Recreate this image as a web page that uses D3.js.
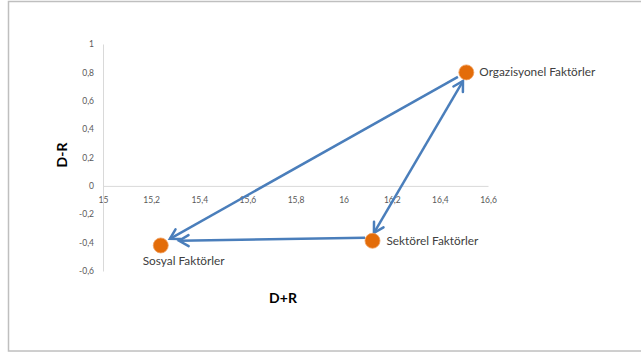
<!DOCTYPE html>
<html>
<head>
<meta charset="utf-8">
<script src="https://cdn.jsdelivr.net/npm/d3@7"></script>
<style>
  html, body { margin: 0; padding: 0; background: #fff; }
  svg { display: block; }
  text { font-family: Lato, "Open Sans", sans-serif; }
</style>
</head>
<body>
<svg id="chart" width="641" height="354"></svg>
<script>
// Factor positions on the D+R / D-R plane
const factorNames = ["Orgazisyonel Faktörler", "Sektörel Faktörler", "Sosyal Faktörler"];
const dPlusR = [16.51, 16.12, 15.24];
const dMinusR = [0.80, -0.387, -0.42];

// Axis ticks
const xTicks = [15, 15.2, 15.4, 15.6, 15.8, 16, 16.2, 16.4, 16.6];
const yTicks = [1, 0.8, 0.6, 0.4, 0.2, 0, -0.2, -0.4, -0.6];

// Influence arrows (start/end in data units, heads at the given ends)
const arrowFromX = [16.475, 16.496, 16.089];
const arrowFromY = [0.768, 0.739, -0.366];
const arrowToX = [15.278, 16.126, 15.316];
const arrowToY = [-0.373, -0.331, -0.387];
const arrowHeadStart = [false, true, false];
const arrowHeadEnd = [true, true, true];

const svg = d3.select("#chart");

// Outer frame
svg.append("rect")
  .attr("x", 8.5).attr("y", 1.5)
  .attr("width", 640).attr("height", 349.5)
  .attr("fill", "none").attr("stroke", "#bfbfbf").attr("stroke-width", 1.5);

const x = d3.scaleLinear().domain([15, 16.6]).range([103, 488]);
const y = d3.scaleLinear().domain([-0.6, 1]).range([271, 44]);

const fmt = v => (Math.round(v * 10) / 10).toString().replace(".", ",");

// Horizontal axis along D-R = 0
const xAxis = d3.axisBottom(x).tickValues(xTicks).tickFormat(fmt).tickSize(0).tickPadding(11);
const gx = svg.append("g").attr("transform", `translate(0,${y(0)})`).call(xAxis);
gx.select(".domain").attr("stroke", "#d9d9d9").attr("stroke-width", 1);
gx.selectAll("text").attr("fill", "#595959").style("font-size", "8.5px")
  .style("font-family", "Lato, 'Open Sans', sans-serif");

// Vertical axis at D+R = 15
const yAxis = d3.axisLeft(y).tickValues(yTicks).tickFormat(fmt).tickSize(0).tickPadding(9);
const gy = svg.append("g").attr("transform", `translate(${x(15)},0)`).call(yAxis);
gy.select(".domain").attr("stroke", "#d9d9d9").attr("stroke-width", 1);
gy.selectAll("text").attr("fill", "#595959").style("font-size", "8.5px")
  .style("font-family", "Lato, 'Open Sans', sans-serif");

// Axis titles
svg.append("text")
  .attr("x", 283).attr("y", 303)
  .attr("text-anchor", "middle")
  .attr("font-weight", "bold").attr("font-size", 14).attr("fill", "#000")
  .text("D+R");
svg.append("text")
  .attr("transform", "translate(67,155) rotate(-90)")
  .attr("text-anchor", "middle")
  .attr("font-weight", "bold").attr("font-size", 14).attr("fill", "#000")
  .text("D-R");

// Arrows
const arrowColor = "#4a7ebb";
const headLen = 11, headAng = Math.PI / 6;
function head(g, tipX, tipY, fromX, fromY) {
  const a = Math.atan2(tipY - fromY, tipX - fromX);
  const p1 = [tipX - headLen * Math.cos(a - headAng), tipY - headLen * Math.sin(a - headAng)];
  const p2 = [tipX - headLen * Math.cos(a + headAng), tipY - headLen * Math.sin(a + headAng)];
  g.append("path")
    .attr("d", `M${p1[0]},${p1[1]}L${tipX},${tipY}L${p2[0]},${p2[1]}`)
    .attr("fill", "none").attr("stroke", arrowColor).attr("stroke-width", 2.5)
    .attr("stroke-linecap", "round").attr("stroke-linejoin", "miter");
}
const ga = svg.append("g");
arrowFromX.forEach((_, i) => {
  const x1 = x(arrowFromX[i]), y1 = y(arrowFromY[i]);
  const x2 = x(arrowToX[i]), y2 = y(arrowToY[i]);
  ga.append("line")
    .attr("x1", x1).attr("y1", y1).attr("x2", x2).attr("y2", y2)
    .attr("stroke", arrowColor).attr("stroke-width", 2.5);
  if (arrowHeadEnd[i]) head(ga, x2, y2, x1, y1);
  if (arrowHeadStart[i]) head(ga, x1, y1, x2, y2);
});

// Factor markers
svg.append("g").selectAll("circle")
  .data(factorNames)
  .join("circle")
  .attr("cx", (d, i) => x(dPlusR[i]))
  .attr("cy", (d, i) => y(dMinusR[i]))
  .attr("r", 7.5)
  .attr("fill", "#e36c09")
  .attr("stroke", "#f0a060").attr("stroke-width", 0.8);

// Factor labels
const labelDx = [13, 14, -18];
const labelDy = [4, 4, 20];
svg.append("g").selectAll("text")
  .data(factorNames)
  .join("text")
  .attr("x", (d, i) => x(dPlusR[i]) + labelDx[i])
  .attr("y", (d, i) => y(dMinusR[i]) + labelDy[i])
  .attr("font-size", 11.8)
  .attr("fill", "#404040")
  .text(d => d);
</script>
</body>
</html>
